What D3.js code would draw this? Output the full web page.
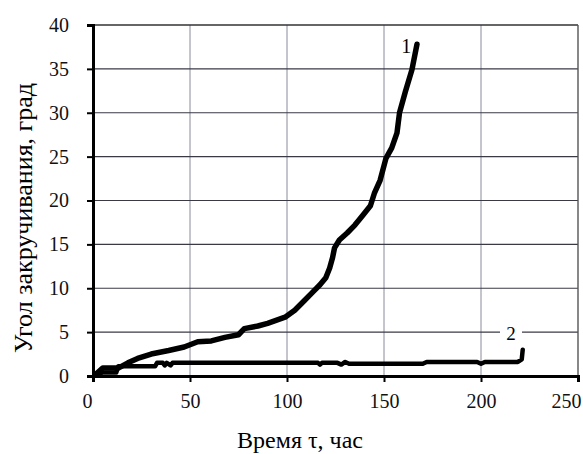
<!DOCTYPE html>
<html><head><meta charset="utf-8">
<script src="https://cdn.jsdelivr.net/npm/d3@7"></script>
<style>body{margin:0;background:#fff} svg text{font-family:"Liberation Serif","Times New Roman",Times,serif !important}</style>
</head><body>
<svg id="c" width="583" height="454"></svg>
<script>
const xTicks = [0, 50, 100, 150, 200, 250];
const yTicks = [0, 5, 10, 15, 20, 25, 30, 35, 40];
const curve1X = [1, 5, 13, 18, 23, 30, 39, 47, 54, 61, 68, 75, 78, 85, 90, 99, 104, 109, 113, 117, 120, 122, 123.5, 124.5, 127, 131, 135, 139, 143, 145, 148, 151, 154, 156.7, 158, 161, 164.4, 167];
const curve1Y = [0.1, 0.9, 0.9, 1.5, 2.0, 2.5, 2.9, 3.3, 3.9, 4.0, 4.4, 4.7, 5.4, 5.7, 6.0, 6.7, 7.5, 8.6, 9.5, 10.4, 11.2, 12.3, 13.5, 14.6, 15.5, 16.3, 17.2, 18.3, 19.4, 20.8, 22.3, 24.8, 26.0, 27.7, 30.0, 32.4, 34.9, 37.8];
const curve2X = [1, 5, 12, 13, 32, 33, 36, 37, 38, 40, 41, 43, 60, 100, 116, 117, 118, 126, 128, 130, 132, 140, 170, 172, 198, 200, 202, 219, 221, 221.5];
const curve2Y = [0.2, 0.4, 0.4, 1.1, 1.1, 1.5, 1.5, 1.2, 1.5, 1.2, 1.5, 1.5, 1.5, 1.5, 1.5, 1.3, 1.5, 1.5, 1.3, 1.6, 1.4, 1.4, 1.4, 1.6, 1.6, 1.4, 1.6, 1.6, 1.9, 3.0];
const labels = ["1", "2"];

const svg = d3.select("#c");
const L = 93, R = 578, T = 25, B = 376;
const x = d3.scaleLinear().domain([0, 250]).range([L, R]);
const y = d3.scaleLinear().domain([0, 40]).range([B, T]);

// vertical gridlines
svg.append("g").selectAll("line").data(xTicks.slice(1, -1)).join("line")
  .attr("x1", d => x(d)).attr("x2", d => x(d)).attr("y1", T).attr("y2", B)
  .attr("stroke", "#8a8a9c").attr("stroke-width", 1);
// horizontal gridlines
svg.append("g").selectAll("line").data(yTicks.slice(1, -1)).join("line")
  .attr("x1", L).attr("x2", R).attr("y1", d => y(d)).attr("y2", d => y(d))
  .attr("stroke", "#3a3a44").attr("stroke-width", 1.2);
// top & right border
svg.append("line").attr("x1", L).attr("x2", R).attr("y1", T).attr("y2", T).attr("stroke", "#333").attr("stroke-width", 1.6);
svg.append("line").attr("x1", R).attr("x2", R).attr("y1", T).attr("y2", B).attr("stroke", "#555").attr("stroke-width", 1.4);

// axes
const xAxis = svg.append("g").attr("transform", `translate(0,${B})`)
  .call(d3.axisBottom(x).tickValues(xTicks).tickSize(6).tickPadding(12));
const yAxis = svg.append("g").attr("transform", `translate(${L},0)`)
  .call(d3.axisLeft(y).tickValues(yTicks).tickSize(6).tickPadding(18));
[xAxis, yAxis].forEach(a => {
  a.select(".domain").attr("stroke", "#000").attr("stroke-width", 3);
  a.selectAll(".tick line").attr("stroke", "#000").attr("stroke-width", 2);
  a.selectAll(".tick text").attr("font-size", 20).attr("fill", "#111");
});
xAxis.selectAll(".tick text").filter(d => d === 250).attr("dx", -12);
xAxis.selectAll(".tick text").filter(d => d === 0).attr("dx", -6);

// curves
const line = d3.line().x(d => x(d[0])).y(d => y(d[1]));
svg.append("path").datum(curve2X.map((v, i) => [v, curve2Y[i]]))
  .attr("d", line).attr("fill", "none").attr("stroke", "#000").attr("stroke-width", 4.5)
  .attr("stroke-linejoin", "round").attr("stroke-linecap", "round");
svg.append("path").datum(curve1X.map((v, i) => [v, curve1Y[i]]))
  .attr("d", line).attr("fill", "none").attr("stroke", "#000").attr("stroke-width", 5.5)
  .attr("stroke-linejoin", "round").attr("stroke-linecap", "round");

// curve labels
svg.append("text").attr("x", x(161.5)).attr("y", 53)
  .attr("font-size", 20).attr("text-anchor", "middle").text(labels[0]);
svg.append("rect").attr("x", 500).attr("y", y(6.3)).attr("width", 22).attr("height", 20).attr("fill", "#fff");
svg.append("text").attr("x", 511).attr("y", 340)
  .attr("font-size", 19).attr("text-anchor", "middle").text(labels[1]);

// axis titles
svg.append("text").attr("x", 300).attr("y", 448)
  .attr("font-size", 24).attr("text-anchor", "middle").text("Время τ, час");
svg.append("text").attr("transform", `translate(32,218) rotate(-90)`)
  .attr("font-size", 26).attr("text-anchor", "middle")
  .text("Угол закручивания, град");
</script>
</body></html>
